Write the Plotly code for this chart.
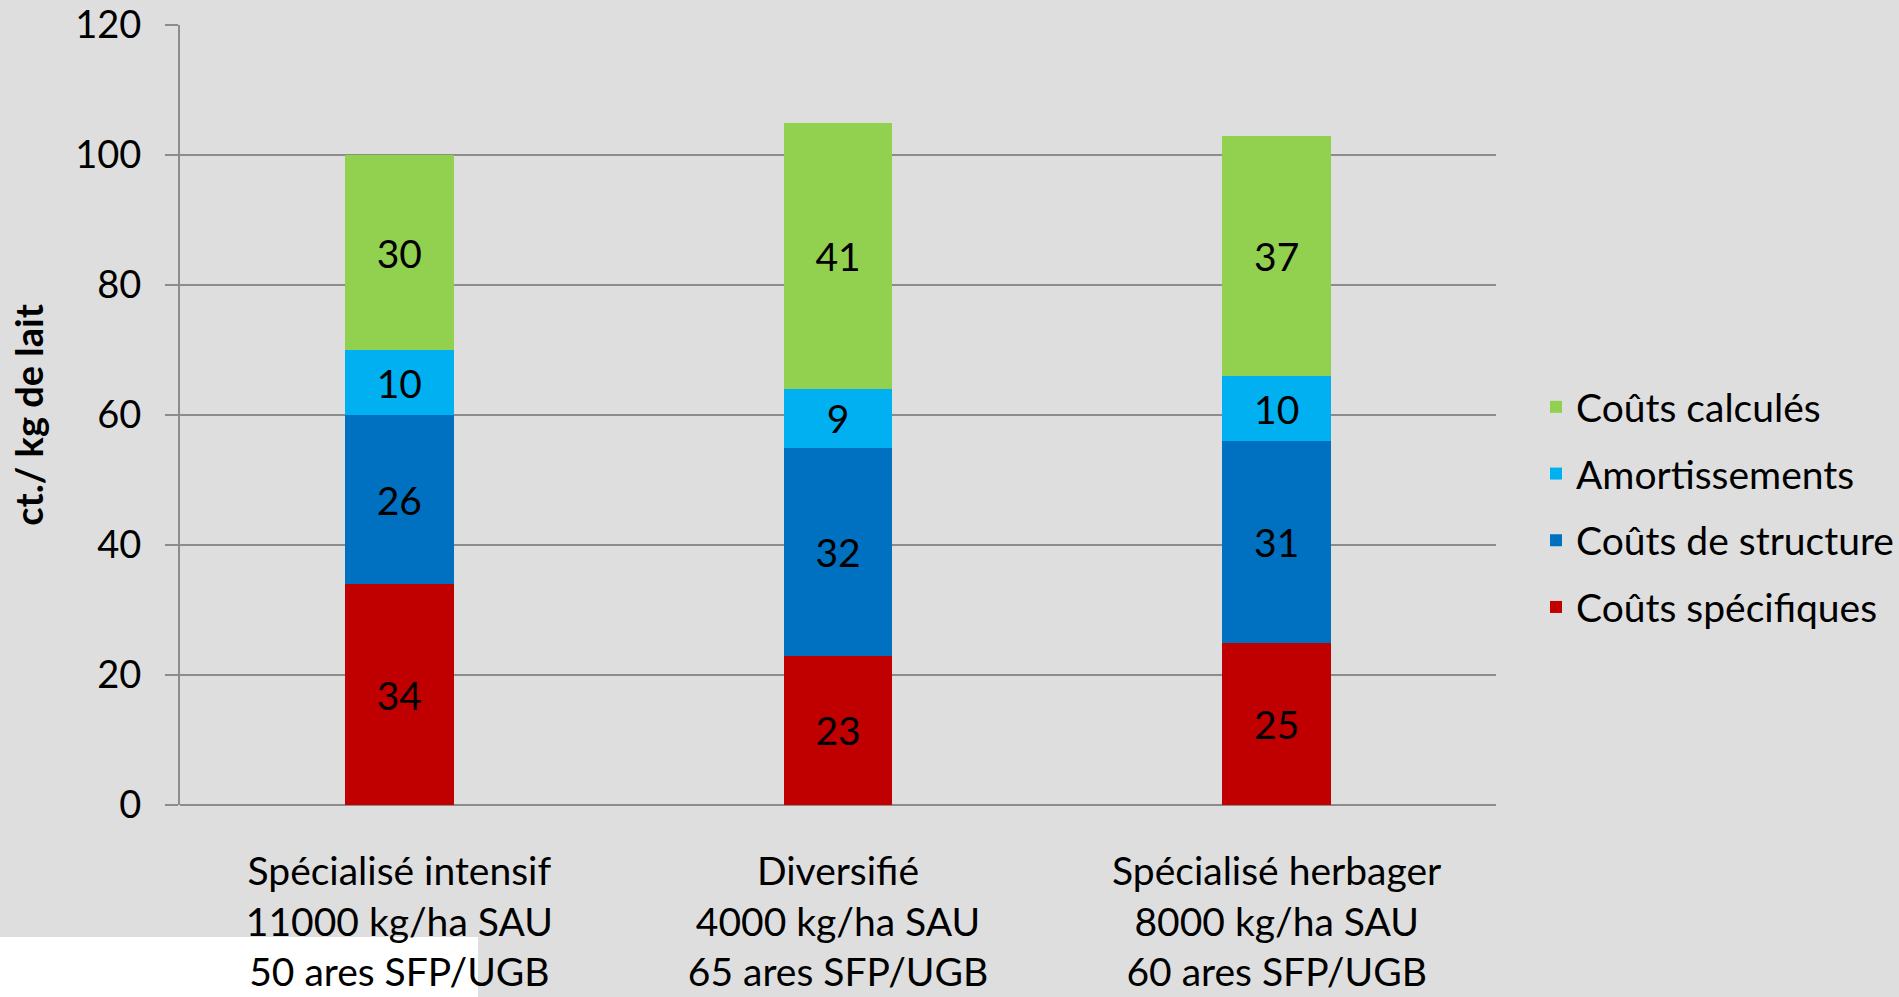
import plotly.graph_objects as go

categories = [
    "Spécialisé intensif<br>11000 kg/ha SAU<br>50 ares SFP/UGB",
    "Diversifié<br>4000 kg/ha SAU<br>65 ares SFP/UGB",
    "Spécialisé herbager<br>8000 kg/ha SAU<br>60 ares SFP/UGB",
]
couts_specifiques = [34, 23, 25]
couts_structure = [26, 32, 31]
amortissements = [10, 9, 10]
couts_calcules = [30, 41, 37]

y_ticks = [0, 20, 40, 60, 80, 100, 120]
y_title = "ct./ kg de lait"

series = [
    ("Coûts spécifiques", couts_specifiques, "#C00000", 4),
    ("Coûts de structure", couts_structure, "#0070C0", 3),
    ("Amortissements", amortissements, "#00B0F0", 2),
    ("Coûts calculés", couts_calcules, "#92D050", 1),
]

FONT = "Lato"
FS = 39
BG = "#DEDEDE"
GRID = "#8C8C8C"

fig = go.Figure()
for name, vals, color, rank in series:
    fig.add_trace(go.Bar(
        x=categories, y=vals, name=name, legendgroup=name, legendrank=rank,
        marker=dict(color=color, line=dict(width=0)),
        width=0.248,
        text=vals, textposition="inside", insidetextanchor="middle",
        textangle=0,
        textfont=dict(family=FONT, size=FS, color="black"),
        constraintext="none",
    ))

W, H = 1899, 997
L, R, T, B = 180, 1496, 25, 805
fig.update_layout(
    width=W, height=H,
    barmode="stack",
    paper_bgcolor=BG, plot_bgcolor=BG,
    margin=dict(l=L, r=W - R, t=T, b=H - B, pad=0, autoexpand=False),
    font=dict(family=FONT, size=FS, color="black"),
    uniformtext=dict(minsize=FS, mode="show"),
    legend=dict(
        x=(1536 - L) / (R - L), xanchor="left",
        y=1 - (507 - T) / (B - T), yanchor="middle",
        traceorder="grouped", tracegroupgap=13,
        font=dict(family=FONT, size=FS, color="black"),
        bgcolor="rgba(0,0,0,0)",
    ),
    showlegend=True,
    xaxis=dict(
        showgrid=False, showline=False, ticks="", automargin=False,
        tickfont=dict(family=FONT, size=FS, color="black"),
        ticklabelstandoff=40,
    ),
    yaxis=dict(
        range=[0, 120], tickvals=y_ticks, automargin=False,
        showgrid=True, gridcolor=GRID, gridwidth=2,
        zeroline=True, zerolinecolor=GRID, zerolinewidth=2,
        showline=True, linecolor=GRID, linewidth=2,
        ticks="outside", ticklen=13, tickwidth=2, tickcolor=GRID,
        tickfont=dict(family=FONT, size=38, color="black"),
        ticklabelstandoff=16,
        title=dict(text=y_title, font=dict(family=FONT, size=38, color="black", weight="bold"), standoff=20),
    ),
    shapes=[dict(
        type="rect", xref="paper", yref="paper",
        x0=(0 - L) / (R - L), x1=(478 - L) / (R - L),
        y0=(B - 997) / (B - T), y1=(B - 937) / (B - T),
        fillcolor="white", line=dict(width=0), layer="below",
    )],
)

fig.write_html(
    "out.html",
    config={"displayModeBar": False},
    post_script="document.body.style.margin='0';document.body.style.overflow='hidden';",
)
